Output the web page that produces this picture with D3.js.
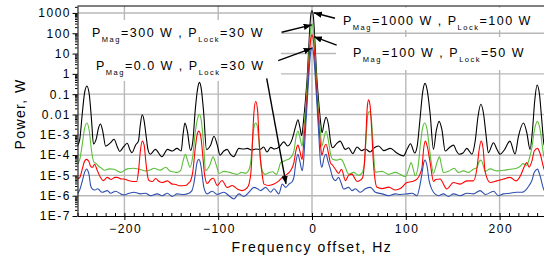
<!DOCTYPE html>
<html>
<head>
<meta charset="utf-8">
<script src="https://cdn.jsdelivr.net/npm/d3@7"></script>
<style>
body { margin: 0; background: #fff; }
svg { display: block; font-family: "Liberation Sans", Arial, sans-serif; }
</style>
</head>
<body>
<svg id="chart" width="544" height="261"></svg>
<script>
var freqTicks = [-200, -100, 0, 100, 200];
var powerTicks = [1e3, 1e2, 1e1, 1, 0.1, 0.01, 1e-3, 1e-4, 1e-5, 1e-6, 1e-7];
var powerLabels = ["1000", "100", "10", "1", "0.1", "0.01", "1E-3", "1E-4", "1E-5", "1E-6", "1E-7"];

// spectra: [offset Hz, log10(power W)]
var black = [[-250,-3.55],[-247.5,-3.2],[-245,-2.0],[-242.5,-0.95],[-240,-0.6],[-237.5,-1.0],[-235,-2.3],[-233,-3.45],[-230,-3.2],[-227.5,-2.65],[-225.5,-2.47],[-223,-2.85],[-220,-3.56],[-215,-3.4],[-211,-3.22],[-207.5,-3.6],[-205,-3.82],[-201,-3.6],[-197,-3.42],[-194,-3.75],[-192,-3.88],[-188,-3.5],[-185,-3.3],[-183,-2.5],[-181,-2.01],[-179,-2.3],[-177,-3.0],[-175,-3.7],[-172.5,-3.96],[-167,-3.72],[-160,-4.08],[-154,-3.72],[-149,-3.8],[-144,-3.67],[-139.5,-3.8],[-137.5,-3.0],[-135.5,-2.42],[-133,-2.8],[-129.5,-3.77],[-127,-3.3],[-124.5,-1.8],[-122,-0.75],[-120,-0.42],[-118,-0.75],[-115.5,-1.9],[-112.5,-3.72],[-108,-3.5],[-104.5,-3.07],[-101,-3.5],[-98,-4.0],[-94,-3.8],[-90.5,-3.72],[-87,-3.95],[-83.5,-4.08],[-78,-3.67],[-73,-3.7],[-69,-3.67],[-64,-3.75],[-60,-3.7],[-55,-3.72],[-51.5,-3.6],[-48,-3.85],[-44,-3.62],[-40,-3.7],[-35,-3.6],[-30,-3.35],[-26,-3.55],[-21,-3.2],[-17.5,-2.6],[-15,-2.26],[-13,-2.6],[-11,-3.05],[-9,-2.3],[-7,-1.3],[-5,-0.1],[-3,1.7],[-1.5,2.8],[0,3.12],[1.5,2.8],[3,1.7],[5,-0.1],[7,-1.3],[9,-2.3],[10.7,-2.9],[13,-2.4],[15,-2.14],[17.5,-2.5],[20,-3.4],[22,-3.64],[26,-3.45],[30,-3.31],[35.5,-3.72],[39,-3.64],[43.5,-3.93],[48,-3.6],[53,-3.78],[57,-3.7],[62,-3.85],[66,-3.65],[71,-3.55],[76.5,-3.78],[83.5,-3.67],[90.5,-3.9],[97.5,-4.04],[101.5,-3.7],[105,-3.44],[109.5,-3.9],[112,-3.6],[115,-2.3],[118,-0.9],[120.5,-0.47],[123,-0.85],[126,-2.0],[129.5,-3.72],[132.5,-2.8],[135.5,-2.34],[138.5,-2.75],[142,-3.8],[146,-3.65],[151,-3.51],[154,-3.8],[157,-3.96],[161,-3.9],[165,-3.67],[170.5,-3.96],[174,-3.3],[177,-2.1],[180,-1.5],[183,-2.0],[185.5,-3.0],[188,-3.88],[193.5,-3.39],[197,-3.7],[200.5,-3.96],[205,-3.75],[211,-3.31],[216.5,-3.95],[220,-3.1],[225.5,-2.42],[229,-2.9],[232.5,-3.72],[235,-2.8],[237.5,-1.3],[240,-0.55],[242.5,-1.0],[245,-2.3],[247.5,-3.5],[250,-3.6]];

var green = [[-250,-4.45],[-247.5,-4.2],[-245,-3.5],[-242.5,-2.7],[-240,-2.42],[-237.5,-2.8],[-235,-3.8],[-232.5,-4.35],[-230,-4.42],[-227.5,-4.55],[-225,-4.62],[-221,-4.75],[-216,-4.68],[-211,-4.7],[-204,-4.85],[-197,-4.68],[-190,-4.65],[-184,-4.7],[-177.5,-4.78],[-172,-4.72],[-168.5,-4.65],[-162,-4.74],[-156,-4.6],[-151,-4.8],[-144,-4.85],[-140,-4.75],[-137.5,-4.3],[-135,-3.96],[-132.5,-4.3],[-130,-4.6],[-127,-4.0],[-124.5,-2.9],[-122,-2.2],[-120,-2.0],[-118,-2.3],[-115.5,-3.5],[-113.5,-4.77],[-109,-4.5],[-105.5,-4.09],[-102,-4.5],[-99,-4.9],[-94,-4.8],[-88,-4.85],[-80,-4.95],[-75,-4.85],[-71,-4.9],[-67,-4.7],[-65,-4.2],[-63,-3.1],[-61.5,-2.55],[-60,-2.42],[-58.5,-2.55],[-57,-3.1],[-55,-4.2],[-53,-4.77],[-50,-4.95],[-45,-4.85],[-42,-4.82],[-38,-4.95],[-35,-4.6],[-33.5,-4.37],[-30,-4.3],[-28,-4.25],[-25,-4.2],[-22.8,-4.13],[-19.3,-3.8],[-17,-3.1],[-15,-2.82],[-13,-3.1],[-10.5,-3.56],[-9,-2.9],[-7,-1.8],[-5,-0.5],[-3,1.2],[-1.5,2.15],[0,2.46],[1.5,2.15],[3,1.2],[5,-0.5],[7,-1.8],[9,-2.9],[10.5,-3.56],[13,-3.1],[15,-2.82],[17.5,-3.3],[20,-4.0],[22,-4.21],[26,-4.25],[30,-4.2],[32,-4.25],[35.5,-4.6],[39,-4.94],[44.4,-4.85],[49.8,-5.0],[53,-4.9],[56,-4.4],[57.5,-3.3],[59.5,-2.0],[61.2,-1.85],[63,-2.1],[64.5,-3.0],[66,-4.2],[67.6,-4.85],[74.7,-4.8],[81.8,-4.95],[88.9,-4.85],[94.2,-4.95],[99.6,-5.07],[103,-4.7],[105.6,-4.37],[108,-4.7],[110,-5.02],[113,-4.6],[115.5,-3.5],[118,-2.65],[120.2,-2.42],[122.5,-2.7],[125,-3.6],[127,-4.3],[129.5,-4.9],[133,-4.4],[135.9,-4.09],[138,-4.5],[140,-4.86],[145.5,-4.8],[151.5,-4.65],[156,-4.85],[161.5,-4.78],[166.8,-4.85],[172,-4.7],[176,-4.6],[178.5,-4.3],[180.3,-4.25],[182.5,-4.5],[184.6,-4.8],[190,-4.68],[197,-4.78],[204,-4.75],[211,-4.7],[218,-4.65],[222,-4.55],[224.8,-4.42],[229,-4.5],[231.5,-4.2],[234.4,-3.64],[237,-2.8],[240.4,-2.34],[243,-2.7],[246.8,-3.96],[250,-4.4]];

var red = [[-250,-5.18],[-247.5,-5.1],[-245,-4.7],[-242.5,-4.3],[-240.4,-4.21],[-238,-4.3],[-236,-4.55],[-234,-4.6],[-231.8,-4.45],[-229,-4.75],[-225.5,-5.1],[-222.6,-5.26],[-218.3,-5.1],[-214,-5.2],[-210,-5.1],[-207.7,-5.1],[-203,-5.18],[-200.6,-5.18],[-196,-5.25],[-191,-5.3],[-187,-5.3],[-185,-4.8],[-183,-3.8],[-181,-3.31],[-179,-3.5],[-177,-4.4],[-175,-5.1],[-173.9,-5.25],[-170,-5.3],[-166.8,-5.15],[-163,-5.3],[-159.7,-5.35],[-154.3,-5.27],[-149,-5.43],[-145,-5.45],[-141.9,-5.51],[-135,-5.5],[-131,-5.35],[-129.4,-5.26],[-127,-4.8],[-125,-3.9],[-122.5,-3.0],[-120.6,-2.82],[-118.5,-3.1],[-116.5,-4.0],[-114.6,-4.94],[-111.7,-5.4],[-108,-5.2],[-105.3,-5.14],[-101,-5.5],[-96,-5.25],[-90.3,-5.6],[-85,-5.5],[-79.6,-5.67],[-74.3,-5.75],[-69,-5.6],[-67,-5.4],[-65,-4.8],[-63.5,-3.4],[-62,-1.95],[-60,-1.36],[-58,-1.8],[-56.5,-3.2],[-55,-4.2],[-53,-5.0],[-51.2,-5.43],[-46,-5.5],[-40.6,-5.43],[-35.3,-5.27],[-31.7,-5.1],[-26.4,-4.94],[-22.9,-4.77],[-19.3,-4.37],[-17,-3.75],[-15,-3.51],[-13,-3.8],[-10.5,-4.21],[-9,-3.5],[-7,-2.3],[-5,-0.9],[-3,0.75],[-1.5,1.65],[0,1.92],[1.5,1.65],[3,0.75],[5,-0.9],[7,-2.3],[9,-3.5],[10.5,-4.0],[13,-3.6],[15,-3.47],[17.5,-3.9],[19.6,-4.37],[22,-4.5],[25,-4.7],[28.4,-4.9],[31.5,-4.7],[35.6,-5.26],[39,-5.0],[42.7,-4.94],[45,-5.1],[48,-5.3],[51,-5.25],[54,-5.1],[56,-4.3],[57.5,-3.0],[59,-1.6],[60.4,-1.28],[62,-1.6],[63.7,-2.8],[65.5,-4.4],[67.5,-5.3],[69.3,-5.59],[74.7,-5.65],[81.8,-5.58],[88.9,-5.72],[94.2,-5.65],[101.3,-5.35],[106.7,-5.3],[112,-5.18],[115,-4.95],[117.3,-4.6],[119,-3.7],[120.9,-3.31],[123,-3.6],[126.2,-4.45],[129.5,-5.3],[132,-5.2],[136.5,-5.18],[143.7,-5.67],[150.8,-5.35],[157.9,-5.43],[165,-5.27],[172,-5.27],[176,-4.6],[178,-3.8],[180.3,-3.31],[182.5,-3.7],[184.5,-4.8],[190,-5.35],[197,-5.27],[204,-5.18],[211.2,-5.1],[217.6,-5.27],[223,-4.94],[226,-4.6],[229,-4.37],[231.5,-4.6],[234.4,-4.3],[237,-3.8],[240.4,-3.67],[243,-3.9],[246.8,-4.6],[250,-5.0]];

var blue = [[-250,-5.9],[-247.5,-5.7],[-245,-5.3],[-242.5,-4.85],[-240.4,-4.69],[-238,-4.9],[-236,-5.5],[-234.3,-5.66],[-231.5,-5.72],[-228.5,-5.66],[-223.7,-5.83],[-218.3,-5.75],[-214.7,-5.88],[-209.4,-5.78],[-204,-5.91],[-200.6,-5.96],[-195,-5.88],[-189.9,-5.83],[-182.8,-5.91],[-177.5,-5.88],[-172.1,-6.0],[-165,-5.91],[-159.7,-6.0],[-154.3,-5.88],[-149,-6.04],[-143.7,-5.91],[-136.6,-5.94],[-131.2,-5.88],[-128,-5.75],[-126,-5.4],[-124,-4.8],[-122.5,-4.35],[-120.6,-4.21],[-118.5,-4.5],[-116.5,-5.2],[-115.3,-5.59],[-111.7,-5.91],[-106.4,-5.78],[-101,-5.94],[-93.9,-5.83],[-88.6,-6.0],[-83.3,-6.16],[-78,-5.91],[-72.7,-6.04],[-67.2,-5.83],[-61.9,-5.59],[-58,-5.66],[-54.8,-5.75],[-49.5,-5.59],[-44.1,-5.83],[-40.5,-5.66],[-35.3,-5.91],[-31.7,-5.43],[-28,-5.59],[-24.6,-5.43],[-21,-5.3],[-19.3,-5.1],[-17,-4.3],[-15,-3.96],[-13,-4.3],[-10.4,-4.77],[-9,-4.3],[-7,-2.8],[-5,-1.3],[-3,0.2],[-1.5,1.05],[0,1.29],[1.5,1.05],[3,0.2],[5,-1.3],[7,-2.8],[9,-4.3],[10.5,-4.6],[13,-4.1],[15,-3.96],[17,-4.3],[19.6,-4.69],[22,-5.1],[24.9,-5.26],[28.4,-5.1],[30.5,-5.3],[33.8,-5.67],[39,-5.59],[42.7,-5.75],[46.2,-5.66],[51.6,-5.83],[56.9,-5.66],[62.2,-5.59],[67.6,-5.83],[74.7,-5.91],[81.8,-6.0],[88.9,-5.91],[94.2,-5.94],[101.3,-5.91],[106.7,-5.88],[112,-6.0],[115,-5.5],[117.3,-4.9],[119,-4.4],[120.5,-4.24],[122.5,-4.5],[125,-5.3],[127,-5.6],[129.5,-5.83],[134.8,-6.0],[140.1,-5.91],[145.5,-6.04],[150.8,-5.91],[158,-6.0],[165,-5.88],[172,-5.91],[179.2,-5.75],[185,-5.94],[193.5,-5.78],[198.8,-6.0],[204,-5.91],[211.2,-5.88],[217.6,-5.83],[223.7,-5.83],[229,-5.66],[231.5,-5.5],[234.4,-5.26],[237,-4.85],[240.4,-4.69],[243,-5.0],[246.8,-5.66],[250,-5.9]];

var series = [
  { pts: black, color: "#000000" },
  { pts: green, color: "#5cbf3a" },
  { pts: red,   color: "#ff0000" },
  { pts: blue,  color: "#2f4fae" }
];

// callouts: text position (px), magnetron / lock power
var notes = [
  { x: 92,  y: 37, mag: "300",  lock: "30" },
  { x: 96,  y: 70, mag: "0.0",  lock: "30" },
  { x: 343, y: 25, mag: "1000", lock: "100" },
  { x: 353, y: 57, mag: "100",  lock: "50" }
];
// arrows in data units: [Hz, log10 W] from -> to
var arrows = [
  [[-32.3, 2.05], [-0.4, 2.41]],
  [[-36.0, 0.65], [-0.4, 1.26]],
  [[24.5, 2.74],  [2.0, 3.01]],
  [[26.3, 1.42],  [2.0, 1.83]],
  [[-48.3, -0.22], [-27.7, -5.42]]
];

var svg = d3.select("#chart");
var L = 77.5, R = 546.5, T = 6, B = 216;

var x = d3.scaleLinear().domain([-250, 250]).range([L, R]);
var y = d3.scaleLog().domain([1e-7, 2200]).range([B, T]);
var pw = function(e) { return Math.pow(10, e); };

// grid
var grid = svg.append("g").attr("stroke", "#b8b8b8").attr("stroke-width", 1.4);
grid.selectAll(".h").data(powerTicks.slice(0, -1)).enter().append("line")
  .attr("x1", L).attr("x2", R).attr("y1", d => y(d)).attr("y2", d => y(d));
grid.selectAll(".v").data(freqTicks).enter().append("line")
  .attr("x1", d => x(d)).attr("x2", d => x(d)).attr("y1", T).attr("y2", B);

// white boxes behind the callout text
var boxes = [[L + 0.5, 20, 281, 81], [318, T + 1.5, R, 30], [336, 37, R, 70]];
svg.append("g").selectAll("rect").data(boxes).enter().append("rect")
  .attr("x", d => d[0]).attr("y", d => d[1])
  .attr("width", d => d[2] - d[0]).attr("height", d => d[3] - d[1])
  .attr("fill", "#fff");

svg.append("clipPath").attr("id", "plot").append("rect")
  .attr("x", L).attr("y", T).attr("width", R - L).attr("height", B - T);

var line = d3.line()
  .x(d => x(d[0]))
  .y(d => y(pw(d[1])))
  .curve(d3.curveMonotoneX);

svg.append("g").attr("clip-path", "url(#plot)")
  .selectAll("path").data(series).enter().append("path")
  .attr("d", d => line(d.pts))
  .attr("fill", "none")
  .attr("stroke", d => d.color)
  .attr("stroke-width", 1.1)
  .attr("stroke-linejoin", "round");

// axes
var minorPow = [];
for (var e = -7; e <= 3; e++) {
  for (var k = 2; k <= 9; k++) {
    if (k * Math.pow(10, e) < 2200) minorPow.push(k * Math.pow(10, e));
  }
}
function styleAxis(g) {
  g.attr("font-family", null).attr("font-size", null);
  g.selectAll("line, path").attr("stroke", "#000");
  g.selectAll("text").attr("fill", "#000").attr("font-size", 12).attr("letter-spacing", 1.5);
}

svg.append("g").attr("transform", `translate(${L},0)`)
  .call(d3.axisLeft(y).tickValues(minorPow).tickSize(2.5).tickFormat(""))
  .call(g => g.select(".domain").remove())
  .call(styleAxis);
svg.append("g").attr("transform", `translate(${L},0)`)
  .call(d3.axisLeft(y).tickValues(powerTicks).tickSizeInner(5).tickSizeOuter(0).tickPadding(3)
    .tickFormat(d => powerLabels[powerTicks.indexOf(d)]))
  .call(styleAxis)
  .call(g => g.selectAll("text").attr("dx", 1.5));

svg.append("g").attr("transform", `translate(0,${B})`)
  .call(d3.axisBottom(x).tickValues(d3.range(-250, 251, 10)).tickSize(-3).tickFormat(""))
  .call(g => g.select(".domain").remove())
  .call(styleAxis);
svg.append("g").attr("transform", `translate(0,${B})`)
  .call(d3.axisBottom(x).tickValues(freqTicks).tickSizeInner(4).tickSizeOuter(0).tickPadding(4.5))
  .call(styleAxis)
  .call(g => g.selectAll("text").attr("dx", 0.75));

svg.append("line").attr("x1", L).attr("x2", R).attr("y1", T).attr("y2", T)
  .attr("stroke", "#000");

// axis titles
svg.append("text")
  .attr("x", 312).attr("y", 252)
  .attr("text-anchor", "middle")
  .attr("font-size", 14).attr("letter-spacing", 1.6)
  .text("Frequency offset, Hz");
svg.append("text")
  .attr("transform", "translate(25,114) rotate(-90)")
  .attr("text-anchor", "middle")
  .attr("font-size", 14).attr("letter-spacing", 1.4)
  .text("Power, W");

// callouts
notes.forEach(function(n) {
  var t = svg.append("text").attr("x", n.x).attr("y", n.y)
    .attr("font-size", 12.5).attr("letter-spacing", 1.5);
  t.append("tspan").text("P");
  t.append("tspan").attr("font-size", 7.5).attr("dy", 4.5).text("Mag");
  t.append("tspan").attr("dy", -4.5).text("=" + n.mag + " W , P");
  t.append("tspan").attr("font-size", 7.5).attr("dy", 4.5).text("Lock");
  t.append("tspan").attr("dy", -4.5).text("=" + n.lock + " W");
});

svg.append("defs").append("marker")
  .attr("id", "head").attr("markerUnits", "userSpaceOnUse")
  .attr("viewBox", "0 0 10 8").attr("refX", 10).attr("refY", 4)
  .attr("markerWidth", 8).attr("markerHeight", 6.4).attr("orient", "auto")
  .append("path").attr("d", "M0,0L10,4L0,8z").attr("fill", "#000");

svg.append("g").selectAll("line").data(arrows).enter().append("line")
  .attr("x1", d => x(d[0][0])).attr("y1", d => y(pw(d[0][1])))
  .attr("x2", d => x(d[1][0])).attr("y2", d => y(pw(d[1][1])))
  .attr("stroke", "#000").attr("stroke-width", 1.4)
  .attr("marker-end", "url(#head)");
</script>
</body>
</html>
